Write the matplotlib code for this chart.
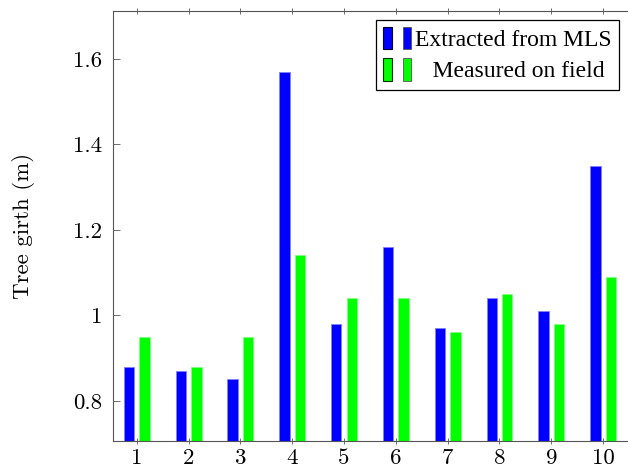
import numpy as np
import matplotlib.pyplot as plt
from matplotlib.patches import Patch
from matplotlib.legend_handler import HandlerTuple

trees = np.arange(1, 11)
mls = [0.88, 0.87, 0.85, 1.57, 0.98, 1.16, 0.97, 1.04, 1.01, 1.35]
field = [0.95, 0.88, 0.95, 1.14, 1.04, 1.04, 0.96, 1.05, 0.98, 1.09]
ytick_vals = [0.8, 1.0, 1.2, 1.4, 1.6]
ytick_labels = ["0.8", "1", "1.2", "1.4", "1.6"]

plt.rcParams["font.family"] = "cmr10"
plt.rcParams["axes.formatter.use_mathtext"] = True

fig = plt.figure(figsize=(6.28, 4.72), dpi=100)
ax = fig.add_axes([113 / 628, 31 / 472, 516 / 628, 430 / 472])

w = 0.2
ax.bar(trees - 0.15, mls, width=w, color="#0000ff", edgecolor="#8080ff", linewidth=0.6)
ax.bar(trees + 0.15, field, width=w, color="#00ff00", edgecolor="#80ff80", linewidth=0.6)

ax.set_xlim(0.54, 10.5)
ax.set_ylim(0.706, 1.712)
ax.set_xticks(trees)
ax.set_xticklabels([str(t) for t in trees])
ax.set_yticks(ytick_vals)
ax.set_yticklabels(ytick_labels)
ax.tick_params(axis="x", direction="inout", length=5, width=0.6, color="#555555",
               top=True, labelsize=16.5, pad=3)
ax.tick_params(axis="y", direction="in", length=5, width=0.6, color="#555555",
               labelsize=16.5, pad=8)
for s in ["left", "bottom", "top"]:
    ax.spines[s].set_color("#555555")
    ax.spines[s].set_linewidth(0.8)
ax.spines["right"].set_visible(False)

ax.set_ylabel("Tree girth (m)", fontsize=16.5)
ax.yaxis.set_label_coords(-0.152, 0.5)

# legend: two small boxes per entry, like pgfplots ybar legends
h1 = (Patch(facecolor="#0000ff", edgecolor="#000033", linewidth=0.8),
      Patch(facecolor="#0000ff", edgecolor="#555555", linewidth=0.6))
h2 = (Patch(facecolor="#00ff00", edgecolor="#003300", linewidth=0.8),
      Patch(facecolor="#00ff00", edgecolor="#555555", linewidth=0.6))
leg = ax.legend([h1, h2], ["Extracted from MLS", "   Measured on field"],
                handler_map={tuple: HandlerTuple(ndivide=None, pad=0.45)},
                loc="upper right", bbox_to_anchor=(0.98, 0.98),
                prop={"family": "Liberation Serif", "size": 17},
                handlelength=1.2, handleheight=1.1, handletextpad=0.15,
                borderpad=0.3, labelspacing=0.3, borderaxespad=0,
                fancybox=False, framealpha=1, edgecolor="black")
leg.get_frame().set_linewidth(0.9)

fig.savefig("out.png", dpi=100)
